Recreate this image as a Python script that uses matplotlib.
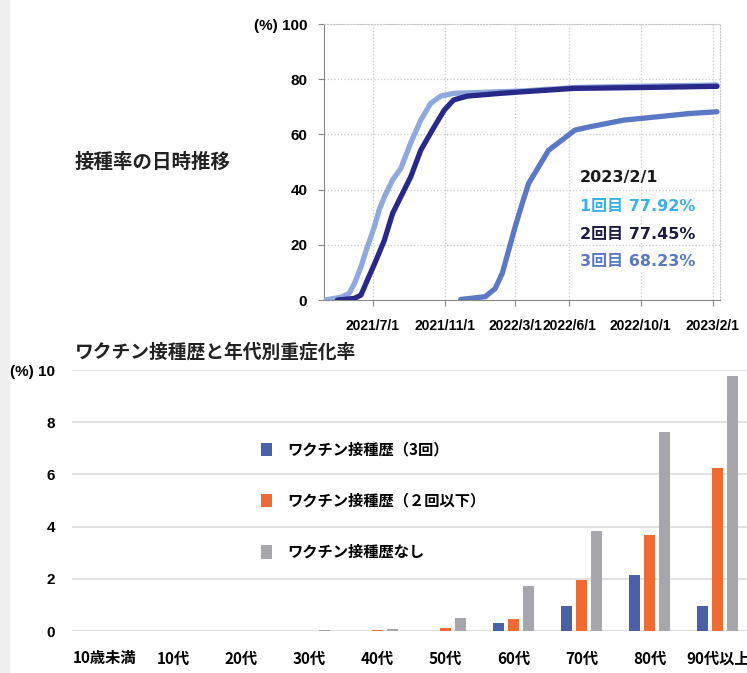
import numpy as np
import matplotlib.pyplot as plt
from matplotlib.patches import Rectangle

plt.rcParams['font.family'] = ['Liberation Sans', 'Noto Sans CJK JP', 'DejaVu Sans']

# 接種率の日時推移 (%)
d1_dates = ['2021-04-10', '2021-05-08', '2021-05-22', '2021-05-31', '2021-06-11', '2021-06-22',
            '2021-07-04', '2021-07-12', '2021-07-21', '2021-08-04', '2021-08-18', '2021-09-04',
            '2021-09-21', '2021-10-08', '2021-10-25', '2021-11-16', '2022-02-04', '2022-03-16',
            '2022-06-09', '2022-09-30', '2023-02-08']
d1_vals = [0, 1.0, 2.4, 6, 12, 19.3, 26.6, 32.6, 37.4, 43.5, 47.7, 57, 65.2, 71.3, 73.9, 74.9,
           75.5, 75.8, 77, 77.5, 77.92]

d2_dates = ['2021-05-02', '2021-05-31', '2021-06-11', '2021-06-22', '2021-07-07', '2021-07-21',
            '2021-08-04', '2021-08-18', '2021-09-04', '2021-09-21', '2021-10-14', '2021-10-31',
            '2021-11-16', '2021-12-09', '2022-02-04', '2022-03-16', '2022-06-09', '2022-09-30',
            '2023-02-08']
d2_vals = [0, 0.6, 1.8, 7.2, 14.5, 21.7, 31.4, 37.4, 44.7, 54.3, 62.8, 68.8, 72.5, 73.9, 74.9,
           75.5, 76.7, 77, 77.45]

d3_dates = ['2021-11-28', '2022-01-09', '2022-01-26', '2022-02-07', '2022-02-18', '2022-03-01',
            '2022-03-13', '2022-03-24', '2022-04-10', '2022-04-27', '2022-05-20', '2022-06-11',
            '2022-07-07', '2022-09-02', '2022-10-29', '2022-12-24', '2023-02-08']
d3_vals = [0.2, 1.2, 4.2, 9.7, 18.1, 26.6, 35, 42.3, 48.3, 54.3, 58, 61.6, 62.8, 65.2, 66.4,
           67.6, 68.23]

tick_dates = ['2021-07-01', '2021-11-01', '2022-03-01', '2022-06-01', '2022-10-01', '2023-02-01']
tick_labels = ['2021/7/1', '2021/11/1', '2022/3/1', '2022/6/1', '2022/10/1', '2023/2/1']

# ワクチン接種歴と年代別重症化率 (%)
ages = ['10歳未満', '10代', '20代', '30代', '40代', '50代', '60代', '70代', '80代', '90代以上']
vac3 = [0, 0, 0, 0, 0, 0.01, 0.32, 0.96, 2.15, 0.97]
vac2 = [0, 0, 0, 0, 0.05, 0.13, 0.47, 1.95, 3.67, 6.26]
novac = [0, 0, 0, 0.03, 0.09, 0.5, 1.72, 3.83, 7.62, 9.77]

fig = plt.figure(figsize=(7.47, 6.73), dpi=100)
fig.patches.append(Rectangle((0, 0), 0.012, 1, transform=fig.transFigure,
                             color='#f0f0f0', zorder=0))

# ---- 上段
ax = fig.add_axes([0.4337, 0.5542, 0.530, 0.410])
ax.plot(np.array(d1_dates, dtype='datetime64[D]'), d1_vals, color='#8fa8de', lw=3.8,
        solid_capstyle='round', solid_joinstyle='round', zorder=3)
ax.plot(np.array(d2_dates, dtype='datetime64[D]'), d2_vals, color='#272a88', lw=3.8,
        solid_capstyle='round', solid_joinstyle='round', zorder=4)
ax.plot(np.array(d3_dates, dtype='datetime64[D]'), d3_vals, color='#5b78c4', lw=3.8,
        solid_capstyle='round', solid_joinstyle='round', zorder=3)
ax.set_xlim(np.datetime64('2021-04-09'), np.datetime64('2023-02-13'))
ax.set_ylim(0, 100)
ax.set_xticks(np.array(tick_dates, dtype='datetime64[D]'))
ax.set_xticklabels(tick_labels, fontsize=10, fontweight='bold')
ax.set_yticks([0, 20, 40, 60, 80, 100])
ax.set_yticklabels(['0', '20', '40', '60', '80', '(%) 100'], fontsize=11, fontweight='bold')
ax.grid(True, ls=':', color='#c8c8c8', lw=0.9)
ax.tick_params(axis='x', length=4, color='#888888', pad=10)
ax.tick_params(axis='y', length=4, color='#888888', pad=8)
for s in ['top', 'right']:
    ax.spines[s].set_linestyle(':')
    ax.spines[s].set_color('#c8c8c8')
for s in ['left', 'bottom']:
    ax.spines[s].set_color('#888888')

fam = ['DejaVu Sans', 'Noto Sans CJK JP']
ann = [('2023/2/1', '#1a1a1a', 178), ('1回目 77.92%', '#3ab0e4', 207),
       ('2回目 77.45%', '#1c1c42', 234), ('3回目 68.23%', '#5b78c4', 262)]
for txt, col, yp in ann:
    fig.text(580 / 747, 1 - yp / 673, txt, fontsize=11.5, fontweight='bold',
             color=col, va='center', family=fam,
             bbox=dict(fc='white', ec='none', pad=1))

fig.text(75 / 747, 1 - 162 / 673, '接種率の日時推移', fontsize=14, fontweight='bold',
         va='center', family='Noto Sans CJK JP', color='#222222')
fig.text(75 / 747, 1 - 352 / 673, 'ワクチン接種歴と年代別重症化率', fontsize=13.5,
         fontweight='bold', va='center', family='Noto Sans CJK JP', color='#222222')

# ---- 下段
bx = fig.add_axes([0.0964, 0.0624, 0.9036, 0.3878])
x = np.arange(len(ages))
w = 0.16
off = 0.22
bx.bar(x - off, vac3, w, color='#4a60a8', label='ワクチン接種歴（3回）', zorder=3)
bx.bar(x, vac2, w, color='#ee6b33', label='ワクチン接種歴（２回以下）', zorder=3)
bx.bar(x + off, novac, w, color='#a7a6ad', label='ワクチン接種歴なし', zorder=3)
bx.set_xlim(-0.485, 9.43)
bx.set_ylim(0, 10)
bx.set_xticks(x)
bx.set_xticklabels(ages, fontsize=11, fontweight='bold', family='Noto Sans CJK JP')
bx.set_yticks([0, 2, 4, 6, 8, 10])
bx.set_yticklabels(['0', '2', '4', '6', '8', '(%) 10'], fontsize=11, fontweight='bold')
bx.tick_params(length=0)
bx.tick_params(axis='x', pad=14)
bx.tick_params(axis='y', pad=12)
bx.grid(True, axis='y', color='#dcdcdc', lw=1.2, zorder=0)
for s in bx.spines.values():
    s.set_visible(False)
bx.set_axisbelow(True)

leg = fig.legend(loc='upper left', bbox_to_anchor=(253 / 747, 1 - 434 / 673),
                 frameon=False, borderpad=0, handlelength=0.75, handleheight=1.0,
                 labelspacing=2.3, handletextpad=1.0,
                 prop={'family': 'Noto Sans CJK JP', 'weight': 'bold', 'size': 11})

fig.savefig('out.png', dpi=100)
